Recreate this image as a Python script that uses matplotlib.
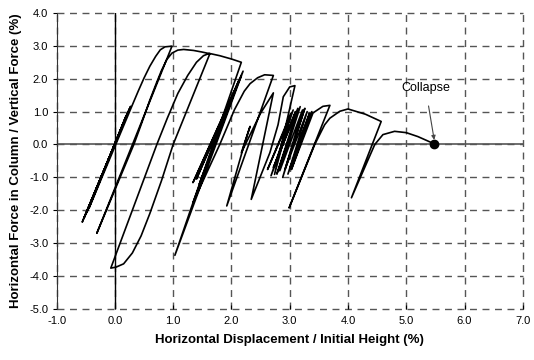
import matplotlib
matplotlib.use("Agg")
import matplotlib.pyplot as plt

plt.rcParams['font.family'] = ['Liberation Sans', 'DejaVu Sans']

# small elastic cycles at the start
disp_start = [0.00, 0.27, -0.56, 0.25, -0.53, 0.23, -0.50, 0.21, -0.47, 0.19, -0.44]
force_start = [0.00, 1.16, -2.36, 1.08, -2.24, 1.00, -2.13, 0.93, -2.02, 0.86, -1.92]

# first large cycles (peak 1, envelope 2, bottom at -3.75)
disp_big = [0.29, 0.40, 0.50, 0.60, 0.70, 0.78, 0.86, 0.98,
            -0.31,
            0.33, 0.45, 0.60, 0.72, 0.80, 0.89, 0.98, 1.08, 1.18, 1.35, 1.50, 1.63,
            1.00, 0.80, 0.60, 0.45, 0.30, 0.15, 0.02, -0.07,
            0.72, 0.90, 1.08, 1.25, 1.40, 1.52, 1.62, 1.80, 2.00, 2.17,
            1.03]
force_big = [1.16, 1.62, 2.02, 2.38, 2.68, 2.88, 2.97, 2.99,
             -2.70,
             0.02, 0.60, 1.35, 1.90, 2.25, 2.58, 2.78, 2.87, 2.89, 2.86, 2.81, 2.76,
             0.00, -1.10, -2.10, -2.78, -3.30, -3.63, -3.73, -3.76,
             0.00, 0.80, 1.55, 2.10, 2.50, 2.70, 2.77, 2.70, 2.60, 2.50,
             -3.37]

# cycles between 1.3 and 3.1
disp_mid = [2.20, 1.34, 2.17, 1.40, 2.12, 1.45, 2.10, 1.34,
            1.80, 2.05, 2.22, 2.32, 2.45, 2.57, 2.72,
            1.92, 2.22, 2.32, 2.17, 2.50, 2.72,
            2.34, 2.66, 2.80, 2.89, 3.00, 3.09]
force_mid = [2.23, -1.16, 2.08, -1.05, 1.92, -1.20, 1.80, -1.77,
             0.00, 1.05, 1.62, 1.85, 2.03, 2.12, 2.10,
             -1.87, 0.00, 0.55, -0.25, 0.95, 1.57,
             -1.67, -0.25, 0.60, 1.45, 1.75, 1.79]

# dense oscillations between 2.5 and 3.5
disp_dense = [2.74, 3.02, 2.62, 3.06, 2.68, 3.10, 2.72, 3.14, 2.78, 3.18, 2.83, 3.22,
              2.88, 3.26, 2.92, 3.30, 2.97, 3.34, 3.01, 3.38, 3.03,
              3.40, 3.57, 3.69]
force_dense = [-0.91, 0.95, -0.76, 1.05, -0.95, 1.00, -0.70, 1.10, -0.90, 1.15, -0.80, 1.05,
               -1.00, 1.10, -0.75, 1.00, -0.90, 0.95, -0.70, 1.00, -0.76,
               0.96, 1.16, 1.19]

# final cycles up to collapse
disp_end = [2.99, 3.43, 3.60, 3.69, 3.86, 4.00, 4.30, 4.57,
            4.06, 4.46, 4.60, 4.80, 5.00, 5.20, 5.48]
force_end = [-1.93, 0.00, 0.60, 0.80, 1.01, 1.08, 0.92, 0.70,
             -1.62, 0.00, 0.30, 0.40, 0.36, 0.24, 0.02]

disp = disp_start + disp_big + disp_mid + disp_dense + disp_end
force = force_start + force_big + force_mid + force_dense + force_end

collapse_x, collapse_y = 5.48, 0.02

fig = plt.figure(figsize=(5.34, 3.6), dpi=100)
ax = fig.add_axes([0.106, 0.142, 0.873, 0.822])

ax.set_xlim(-1, 7)
ax.set_ylim(-5, 4)

# dashed grid at every unit, including the frame
for gx in range(-1, 8):
    ax.axvline(gx, color='#555555', lw=1.0, ls=(0, (5, 4)), zorder=1, clip_on=False)
for gy in range(-5, 5):
    ax.axhline(gy, color='#555555', lw=1.0, ls=(0, (5, 4)), zorder=1, clip_on=False)

ax.axhline(0, color='#555555', lw=1.2, zorder=2)
ax.axvline(0, color='black', lw=1.0, zorder=2)

ax.plot(disp, force, color='black', lw=1.2, zorder=3)
ax.plot(collapse_x, collapse_y, 'o', color='black', ms=6, zorder=4)

ax.annotate('Collapse', xy=(collapse_x, collapse_y + 0.12), xytext=(5.33, 1.73),
            ha='center', va='center', fontsize=9,
            arrowprops=dict(arrowstyle='-|>', color='#444444', lw=0.8,
                            mutation_scale=6, shrinkA=7, shrinkB=0))

ax.set_xticks(range(-1, 8))
ax.set_yticks(range(-5, 5))
ax.set_xticklabels([f'{v:.1f}' for v in range(-1, 8)])
ax.set_yticklabels([f'{v:.1f}' for v in range(-5, 5)])
ax.tick_params(axis='x', direction='in', length=3, labelsize=8, pad=5)
ax.tick_params(axis='y', direction='out', length=3, labelsize=8, pad=3)

for s in ['top', 'right', 'bottom']:
    ax.spines[s].set_visible(False)
ax.spines['left'].set_color('#333333')

ax.set_xlabel('Horizontal Displacement / Initial Height (%)', fontsize=9.5, fontweight='bold', labelpad=6)
ax.set_ylabel('Horizontal Force in Column / Vertical Force (%)', fontsize=9.5, fontweight='bold', labelpad=5)

fig.savefig('out.png', dpi=100)
